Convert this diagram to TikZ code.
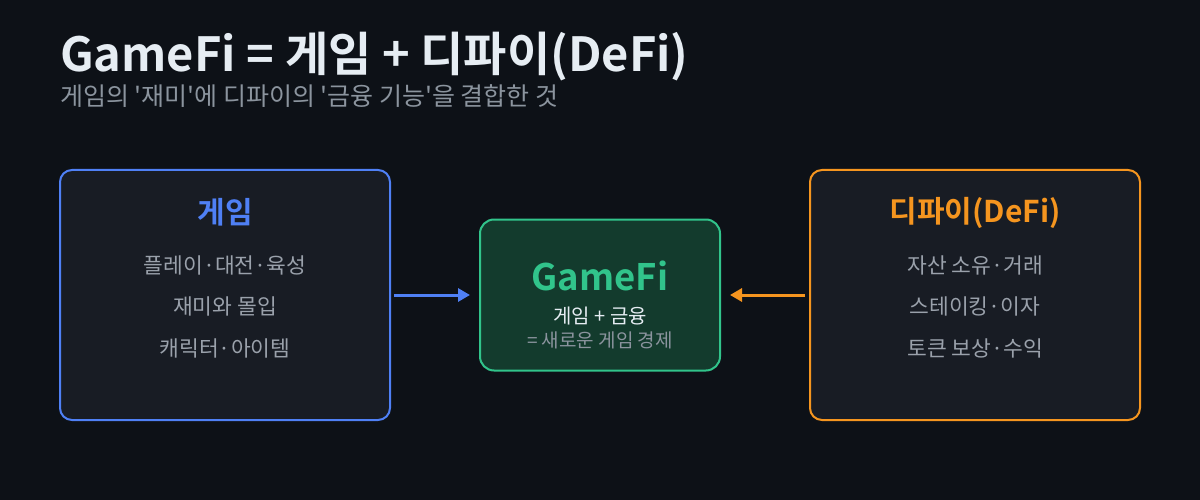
\documentclass[tikz,border=0pt]{standalone}
\usepackage{fontspec}
\setmainfont{Noto Sans CJK KR}[BoldFont={* Bold}]
\usetikzlibrary{arrows.meta}
\definecolor{bg}{HTML}{0D1117}
\definecolor{boxbg}{HTML}{181C24}
\definecolor{titlec}{HTML}{E6EDF3}
\definecolor{subc}{HTML}{8B949E}
\definecolor{itemc}{HTML}{9AA1AB}
\definecolor{blueline}{HTML}{4F80F5}
\definecolor{orangeline}{HTML}{F5951F}
\definecolor{greenline}{HTML}{31C48B}
\definecolor{greenbg}{HTML}{133B2D}
\newcommand{\sq}{\textquotesingle}
\tikzset{
  panel/.style={draw, line width=2pt, rounded corners=12pt, fill=boxbg},
  item/.style={text=itemc, font=\fontsize{21.5}{24}\selectfont, inner sep=0pt, anchor=center},
  head/.style={font=\fontsize{30}{34}\selectfont\bfseries, inner sep=0pt, anchor=center},
  conn/.style={line width=3pt, -{Triangle[length=12pt,width=13pt]}},
}
\begin{document}
\begin{tikzpicture}[x=1pt,y=-1pt]
\fill[bg] (0,0) rectangle (1200,500);
\useasboundingbox (0,0) rectangle (1200,500);
% title
\node[anchor=base west, inner sep=0pt, text=titlec, font=\fontsize{47}{52}\selectfont\bfseries] (title) at (60,72) {GameFi = 게임 + 디파이(DeFi)};
\node[anchor=base west, inner sep=0pt, text=subc, font=\fontsize{25}{28}\selectfont] (sub) at (60,106) {게임의 \sq 재미\sq 에 디파이의 \sq 금융 기능\sq 을 결합한 것};
% boxes
\node[panel, draw=blueline, minimum width=330pt, minimum height=250pt, inner sep=0pt] (game) at (225,295) {};
\node[panel, draw=orangeline, minimum width=330pt, minimum height=250pt, inner sep=0pt] (defi) at (975,295) {};
\node[draw=greenline, fill=greenbg, line width=2pt, rounded corners=14pt, minimum width=240pt, minimum height=151pt, inner sep=0pt] (gf) at (600,295) {};
% left contents
\node[head, text=blueline] (gh) at (225,212) {게임};
\node[item] (g1) at (225,265) {플레이·대전·육성};
\node[item] (g2) at (225,306) {재미와 몰입};
\node[item] (g3) at (225,348) {캐릭터·아이템};
% right contents
\node[head, text=orangeline] (dh) at (975,213) {디파이(DeFi)};
\node[item] (d1) at (975,265) {자산 소유·거래};
\node[item] (d2) at (975,306) {스테이킹·이자};
\node[item] (d3) at (975,348) {토큰 보상·수익};
% center contents
\node[font=\fontsize{36.5}{42}\selectfont\bfseries, text=greenline, inner sep=0pt] (gft) at (600,276) {GameFi};
\node[font=\fontsize{20}{24}\selectfont, text=titlec, inner sep=0pt] (gf1) at (600,316) {게임 + 금융};
\node[font=\fontsize{19}{22}\selectfont, text=subc, inner sep=0pt] (gf2) at (600,340) {= 새로운 게임 경제};
% arrows
\draw[conn, blueline] ([xshift=3pt]game.east) -- ([xshift=-9pt]gf.west);
\draw[conn, orangeline] ([xshift=-4pt]defi.west) -- ([xshift=9pt]gf.east);
\end{tikzpicture}
\end{document}
